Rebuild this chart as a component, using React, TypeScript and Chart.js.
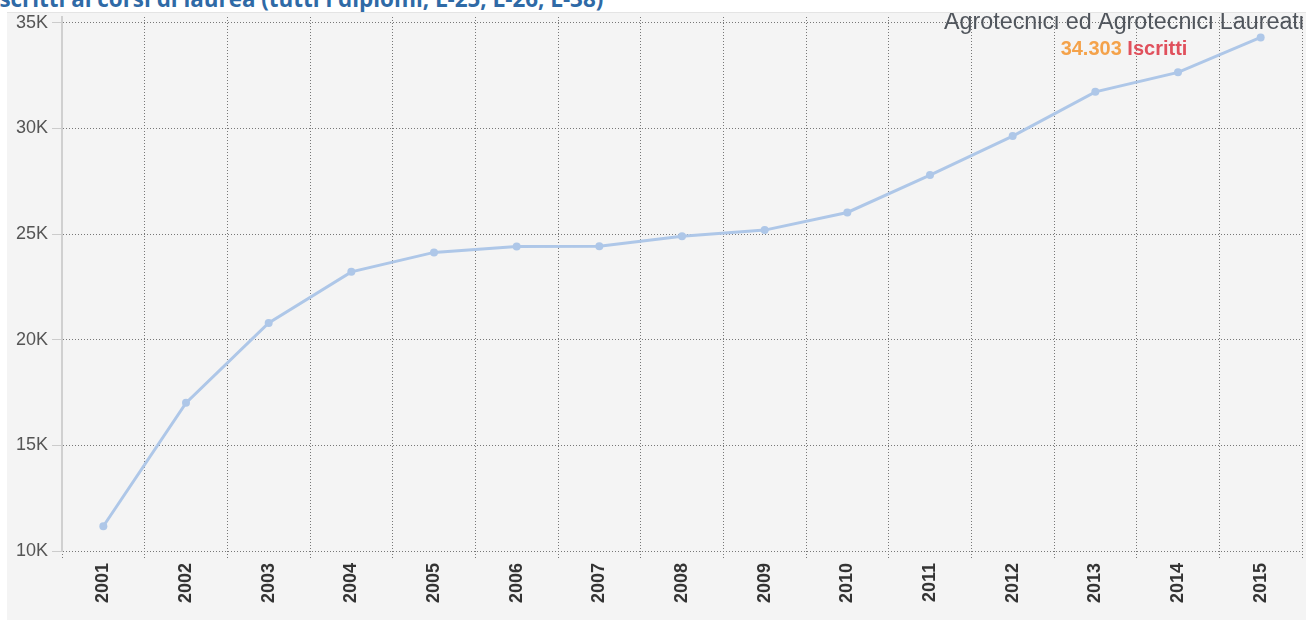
import React, { useEffect, useRef } from "react";
import { Chart, registerables } from "chart.js";

Chart.register(...registerables);

const years = ["2001", "2002", "2003", "2004", "2005", "2006", "2007", "2008", "2009", "2010", "2011", "2012", "2013", "2014", "2015"];
const iscritti = [11170, 17010, 20795, 23210, 24130, 24410, 24420, 24890, 25185, 26020, 27790, 29635, 31730, 32650, 34303];
const yMin = 10000;
const yMax = 35270;
const yTicks = [10000, 15000, 20000, 25000, 30000, 35000];
const titleText = "Iscritti ai corsi di laurea (tutti i diplomi, L-25, L-26, L-38)";
const seriesName = "Agrotecnici ed Agrotecnici Laureati";
const totalLabel = "34.303";
const unitLabel = "Iscritti";

const W = 1299;
const H = 608;

const annotationPlugin = {
  id: "annot",
  beforeDatasetsDraw(chart: any) {
    const ctx = chart.ctx;
    const cx = chart.chartArea.right - 178;
    ctx.save();
    ctx.textBaseline = "alphabetic";
    ctx.textAlign = "center";
    ctx.font = "23.3px 'Liberation Sans', Arial, sans-serif";
    ctx.fillStyle = "#50555c";
    ctx.fillText(seriesName, cx, 16);
    ctx.font = "bold 20px 'Liberation Sans', Arial, sans-serif";
    const a = totalLabel + " ";
    const wa = ctx.measureText(a).width;
    const wb = ctx.measureText(unitLabel).width;
    const x0 = cx - (wa + wb) / 2;
    ctx.textAlign = "left";
    ctx.fillStyle = "#f4a24a";
    ctx.fillText(a, x0, 42);
    ctx.fillStyle = "#e0505c";
    ctx.fillText(unitLabel, x0 + wa, 42);
    ctx.restore();
  },
};

export default function App() {
  const ref = useRef<HTMLCanvasElement>(null);
  useEffect(() => {
    if (!ref.current) return;
    const chart = new Chart(ref.current, {
      type: "line",
      data: {
        labels: years,
        datasets: [
          {
            label: seriesName,
            data: iscritti,
            borderColor: "#aec7e8",
            backgroundColor: "#aec7e8",
            borderWidth: 3,
            pointRadius: 4,
            pointBorderWidth: 0,
            pointBackgroundColor: "#aec7e8",
            tension: 0,
          },
        ],
      },
      options: {
        animation: false,
        responsive: false,
        devicePixelRatio: 1,
        layout: { padding: { top: 1, left: 0, right: 0, bottom: 0 } },
        plugins: { legend: { display: false }, tooltip: { enabled: false } },
        scales: {
          x: {
            offset: true,
            grid: {
              offset: true,
              color: "#777777",
              lineWidth: 1,
              tickLength: 8,
              tickColor: "#777777",
              tickBorderDash: [1, 2],
            },
            border: { display: false, dash: [1, 2] },
            ticks: {
              autoSkip: false,
              maxRotation: 90,
              minRotation: 90,
              padding: 4,
              color: "#333",
              font: { family: "'Liberation Sans', Arial, sans-serif", size: 18, weight: "bold" },
            },
            afterFit: (s: any) => {
              s.height = 70;
              s.paddingLeft = 0;
              s.paddingRight = 0;
            },
          },
          y: {
            min: yMin,
            max: yMax,
            grid: {
              color: "#777777",
              lineWidth: 1,
              tickLength: 10,
              tickColor: "#cccccc",
              tickBorderDash: [],
            },
            border: { display: true, color: "#d0d0d0", width: 2, dash: [1, 2] },
            afterBuildTicks: (s: any) => {
              s.ticks = yTicks.map((v) => ({ value: v }));
            },
            ticks: {
              padding: 4,
              color: "#555",
              font: { family: "'Liberation Sans', Arial, sans-serif", size: 18 },
              callback: (v: any) => Number(v) / 1000 + "K",
            },
            afterFit: (s: any) => {
              s.width = 55;
              s.paddingTop = 0;
              s.paddingBottom = 0;
            },
          },
        },
      },
      plugins: [annotationPlugin],
    });
    return () => chart.destroy();
  }, []);

  return (
    <div
      style={{
        position: "fixed",
        left: 0,
        top: 0,
        width: 1306,
        height: 621,
        background: "#ffffff",
        overflow: "hidden",
      }}
    >
      <div
        style={{
          position: "absolute",
          left: -8,
          top: -12.5,
          fontFamily: "'Open Sans', sans-serif",
          fontWeight: 700,
          fontSize: 22.4,
          lineHeight: "22px",
          color: "#2f6aa6",
          whiteSpace: "nowrap",
        }}
      >
        {titleText}
      </div>
      <div
        style={{
          position: "absolute",
          left: 7,
          top: 12,
          width: W,
          height: H,
          background: "#f4f4f4",
          borderTop: "1px solid #e4e4e4",
          boxSizing: "border-box",
        }}
      >
        <canvas ref={ref} width={W} height={H} style={{ display: "block", width: W, height: H }} />
      </div>
    </div>
  );
}
